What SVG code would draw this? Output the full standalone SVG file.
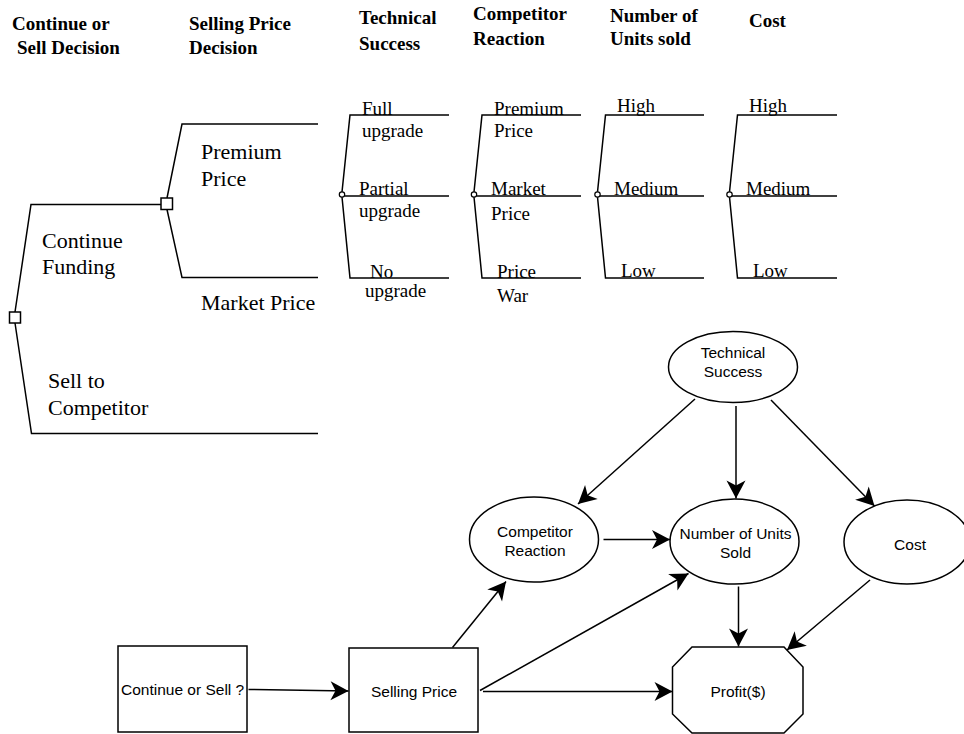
<svg xmlns="http://www.w3.org/2000/svg" width="964" height="734" viewBox="0 0 964 734">
<style>
.hd{font-family:"Liberation Serif","Times New Roman",serif;font-weight:bold;font-size:19px;fill:#000}
.big{font-family:"Liberation Serif","Times New Roman",serif;font-size:22px;fill:#000}
.lb{font-family:"Liberation Serif","Times New Roman",serif;font-size:19px;fill:#000}
.sn{font-family:"Liberation Sans",Arial,sans-serif;font-size:15.5px;fill:#000;text-anchor:middle}
.ln{fill:none;stroke:#000;stroke-width:1.5}
.nd{fill:#fff;stroke:#000;stroke-width:1.5}
.ch{fill:#fff;stroke:#000;stroke-width:1.2}
.ar{fill:none;stroke:#000;stroke-width:1.5;marker-end:url(#ah)}
</style>
<defs>
<marker id="ah" markerUnits="userSpaceOnUse" markerWidth="22" markerHeight="22" viewBox="-20 -11 22 22" refX="0" refY="0" orient="auto">
<path d="M0,0 L-18,-9.5 L-13,0 L-18,9.5 Z" fill="#000"/>
</marker>
</defs>
<rect width="964" height="734" fill="#fff"/>

<g id="headers">
<text class="hd" x="12" y="30">Continue or</text>
<text class="hd" x="17" y="54">Sell Decision</text>
<text class="hd" x="189" y="30">Selling Price</text>
<text class="hd" x="189" y="54">Decision</text>
<text class="hd" x="359" y="24">Technical</text>
<text class="hd" x="359" y="50">Success</text>
<text class="hd" x="473" y="19.5">Competitor</text>
<text class="hd" x="473" y="45">Reaction</text>
<text class="hd" x="610" y="22">Number of</text>
<text class="hd" x="610" y="45">Units sold</text>
<text class="hd" x="749" y="27">Cost</text>
</g>

<g id="tree-branches">
<polyline class="ln" points="15,312 31,204.5 161,204.5"/>
<polyline class="ln" points="15,323 31.5,433.5 318,433.5"/>
<polyline class="ln" points="167,198 182,124 318,124"/>
<polyline class="ln" points="167,209.5 182,277.5 318,277.5"/>
<polyline class="ln" points="342,192 350,115 449,115"/>
<polyline class="ln" points="344.5,196 449,196"/>
<polyline class="ln" points="342,197 350,278 449,278"/>
<polyline class="ln" points="474,192 482,115 581,115"/>
<polyline class="ln" points="476.5,196 581,196"/>
<polyline class="ln" points="474,197 482,278 581,278"/>
<polyline class="ln" points="597.5,192 605.5,115 704,115"/>
<polyline class="ln" points="600,196 704,196"/>
<polyline class="ln" points="597.5,197 605.5,278 704,278"/>
<polyline class="ln" points="729.5,192 737.5,115 837,115"/>
<polyline class="ln" points="732,196 837,196"/>
<polyline class="ln" points="729.5,197 737.5,278 837,278"/>
</g>

<g id="tree-root-decision">
<rect class="nd" x="9.5" y="312" width="11" height="11"/>
<text class="big" x="42" y="248">Continue</text>
<text class="big" x="42" y="274">Funding</text>
<text class="big" x="48" y="388">Sell to</text>
<text class="big" x="48" y="415">Competitor</text>
</g>

<g id="tree-price-decision">
<rect class="nd" x="161" y="198" width="11.5" height="11.5"/>
<text class="big" x="201" y="159">Premium</text>
<text class="big" x="201" y="186">Price</text>
<text class="big" x="201" y="310">Market Price</text>
</g>

<g id="tree-technical-chance">
<circle class="ch" cx="342" cy="194.5" r="2.7"/>
<text class="lb" x="362" y="115">Full</text>
<text class="lb" x="362" y="137">upgrade</text>
<text class="lb" x="359" y="195">Partial</text>
<text class="lb" x="359" y="217">upgrade</text>
<text class="lb" x="370" y="278">No</text>
<text class="lb" x="365" y="297">upgrade</text>
</g>

<g id="tree-competitor-chance">
<circle class="ch" cx="474" cy="194.5" r="2.7"/>
<text class="lb" x="494" y="115">Premium</text>
<text class="lb" x="494" y="137">Price</text>
<text class="lb" x="491" y="195">Market</text>
<text class="lb" x="491" y="220">Price</text>
<text class="lb" x="497" y="278">Price</text>
<text class="lb" x="497" y="302">War</text>
</g>

<g id="tree-units-chance">
<circle class="ch" cx="597.5" cy="194.5" r="2.7"/>
<text class="lb" x="617" y="112">High</text>
<text class="lb" x="614" y="195">Medium</text>
<text class="lb" x="621" y="277">Low</text>
</g>

<g id="tree-cost-chance">
<circle class="ch" cx="729.5" cy="194.5" r="2.7"/>
<text class="lb" x="749" y="112">High</text>
<text class="lb" x="746" y="195">Medium</text>
<text class="lb" x="753" y="277">Low</text>
</g>

<g id="connectors">
<line class="ar" x1="695" y1="399" x2="578" y2="504"/>
<line class="ar" x1="736" y1="406" x2="736" y2="498.5"/>
<line class="ar" x1="771" y1="400" x2="874.5" y2="506"/>
<line class="ar" x1="603.5" y1="539.5" x2="670" y2="539.5"/>
<line class="ar" x1="452.5" y1="647.5" x2="506" y2="581.5"/>
<line class="ar" x1="480" y1="690.5" x2="688.5" y2="573.5"/>
<line class="ar" x1="483" y1="691.5" x2="672.5" y2="691.5"/>
<line class="ar" x1="738.5" y1="586.5" x2="738.5" y2="646.5"/>
<line class="ar" x1="870" y1="580" x2="787" y2="650"/>
<line class="ar" x1="248.5" y1="689.5" x2="348.5" y2="691"/>
</g>

<g id="node-technical-success">
<ellipse class="nd" cx="733" cy="367" rx="64.5" ry="35.5"/>
<text class="sn" x="733" y="357.5">Technical</text>
<text class="sn" x="733" y="376.5">Success</text>
</g>

<g id="node-competitor-reaction">
<ellipse class="nd" cx="534" cy="539.5" rx="64.5" ry="42.5"/>
<text class="sn" x="535" y="536.5">Competitor</text>
<text class="sn" x="535" y="555.5">Reaction</text>
</g>

<g id="node-units-sold">
<ellipse class="nd" cx="734.5" cy="541.5" rx="64.5" ry="42.5"/>
<text class="sn" x="735.5" y="538.5">Number of Units</text>
<text class="sn" x="735.5" y="557.5">Sold</text>
</g>

<g id="node-cost">
<ellipse class="nd" cx="907" cy="542" rx="63" ry="42"/>
<text class="sn" x="910" y="549.5">Cost</text>
</g>

<g id="node-continue-or-sell">
<rect class="nd" x="118" y="646" width="129" height="86"/>
<text class="sn" x="121" y="695" style="text-anchor:start">Continue or Sell ?</text>
</g>

<g id="node-selling-price">
<rect class="nd" x="349" y="648" width="129" height="84"/>
<text class="sn" x="414" y="697">Selling Price</text>
</g>

<g id="node-profit">
<polygon class="nd" points="692,647 784,647 803,667 803,714 784,733 692,733 672.5,714 672.5,667"/>
<text class="sn" x="738" y="696.5">Profit($)</text>
</g>
</svg>
